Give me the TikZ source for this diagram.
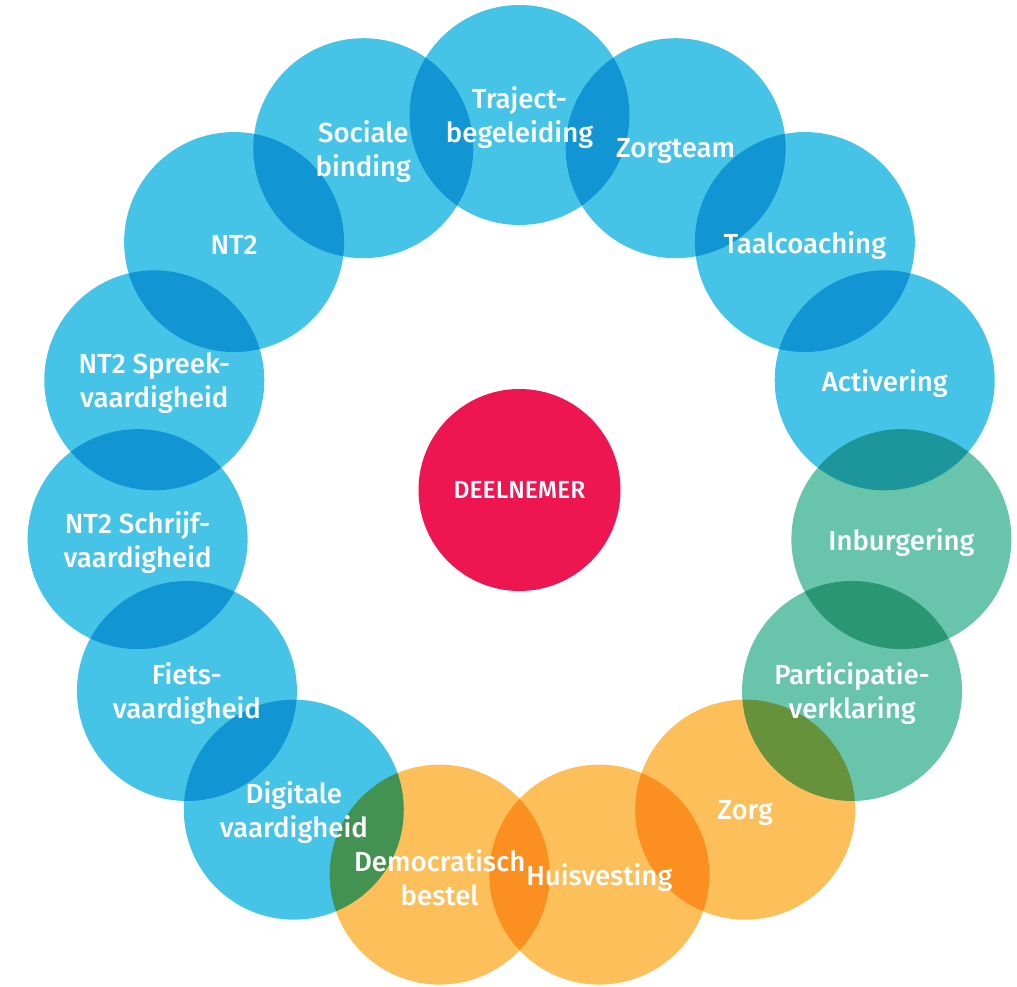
\documentclass[tikz,border=0pt]{standalone}
\usepackage{fontspec}
\setmainfont{Fira Sans}[UprightFont={* Medium}]
\definecolor{ringblue}{HTML}{45C4E8}
\definecolor{ringgreen}{HTML}{68C4AB}
\definecolor{ringorange}{HTML}{FDBF5A}
\definecolor{hubred}{HTML}{EE1651}
\tikzset{
    bubble/.style={circle, minimum size=165pt, inner sep=0pt, fill=#1},
    bubbletext/.style={text=white, align=center, yshift=-2.25pt, font=\fontsize{20.7pt}{25.5pt}\selectfont},
}
\begin{document}
\begin{tikzpicture}[x=0.75pt, y=0.75pt]
    \useasboundingbox (-519.5, -488) rectangle (497.5, 499);

    % ring of topics, overlaps multiplied
    \begin{scope}[blend mode=multiply]
    \node[bubble=ringblue]   (traject)   at (90:384)  {};
    \node[bubble=ringblue]   (zorgteam)  at (66:384)  {};
    \node[bubble=ringblue]   (coaching)  at (42:384)  {};
    \node[bubble=ringblue]   (activ)     at (18:384)  {};
    \node[bubble=ringgreen]  (inburg)    at (-6:384)  {};
    \node[bubble=ringgreen]  (particip)  at (-30:384) {};
    \node[bubble=ringorange] (zorg)      at (-54:384) {};
    \node[bubble=ringorange] (huis)      at (-78:384) {};
    \node[bubble=ringorange] (democr)    at (-102:384) {};
    \node[bubble=ringblue]   (digitaal)  at (-126:384) {};
    \node[bubble=ringblue]   (fiets)     at (-150:384) {};
    \node[bubble=ringblue]   (schrijf)   at (-174:384) {};
    \node[bubble=ringblue]   (spreek)    at (162:384) {};
    \node[bubble=ringblue]   (ntwee)     at (138:384) {};
    \node[bubble=ringblue]   (sociaal)   at (114:384) {};
    \end{scope}

    \node[circle, minimum size=151.5pt, inner sep=0pt, fill=hubred] (hub) at (0, 9) {};

    % texts on top
    \node[bubbletext] at (traject)  {Traject-\\begeleiding};
    \node[bubbletext] at (zorgteam) {Zorgteam};
    \node[bubbletext] at (coaching) {Taalcoaching};
    \node[bubbletext] at (activ)    {Activering};
    \node[bubbletext] at (inburg)   {Inburgering};
    \node[bubbletext] at (particip) {Participatie-\\verklaring};
    \node[bubbletext] at (zorg)     {Zorg};
    \node[bubbletext] at (huis)     {Huisvesting};
    \node[bubbletext] at (democr)   {Democratisch\\bestel};
    \node[bubbletext] at (digitaal) {Digitale\\vaardigheid};
    \node[bubbletext] at (fiets)    {Fiets-\\vaardigheid};
    \node[bubbletext] at (schrijf)  {NT2 Schrijf-\\vaardigheid};
    \node[bubbletext] at (spreek)   {NT2 Spreek-\\vaardigheid};
    \node[bubbletext] at (ntwee)    {NT2};
    \node[bubbletext] at (sociaal)  {Sociale\\binding};
    \node[text=white, font=\fontsize{18.5pt}{22pt}\selectfont] at (hub) {DEELNEMER};
\end{tikzpicture}
\end{document}
